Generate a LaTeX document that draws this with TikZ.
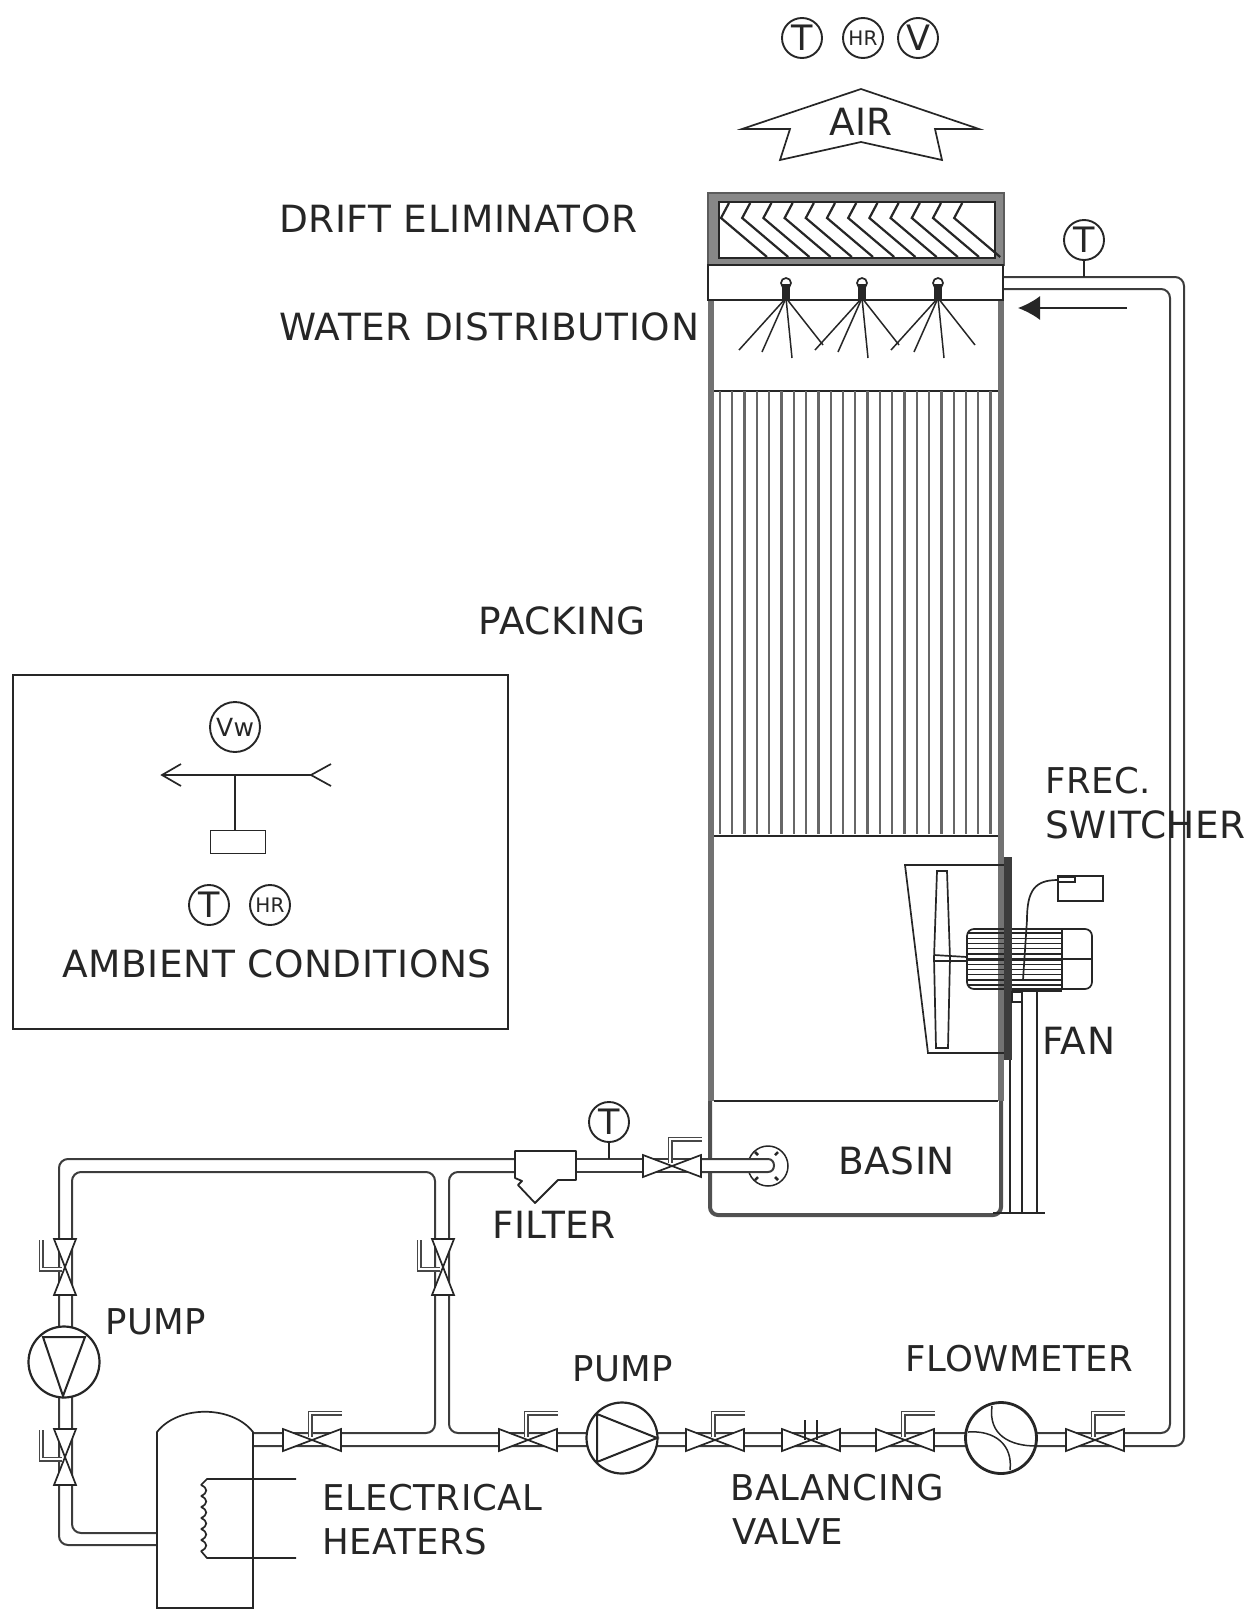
\documentclass[tikz,border=0pt]{standalone}
\usepackage{fontspec}
\setmainfont{DejaVu Sans}[LetterSpace=1.5]
\usetikzlibrary{arrows,arrows.meta}
\definecolor{ink}{HTML}{262626}
\tikzset{
	line/.style={draw=ink,line width=1.7pt},
	wall/.style={draw=ink!65,line width=6pt},
	pipe/.style={draw=ink!90,line width=2pt,rounded corners=9pt},
	handle/.style={draw=ink!85,double=white,double distance=2.4pt,line width=1.3pt},
	tag/.style={anchor=west,inner sep=0pt,text=ink,font=\fontsize{37.5}{42}\selectfont},
	tagsmall/.style={tag,font=\fontsize{35.5}{40}\selectfont},
	sensor/.style={circle,draw=ink,line width=1.9pt,fill=white,minimum size=40pt,inner sep=0pt,text=ink,font=\fontsize{35}{38}\selectfont},
	sensorsmall/.style={sensor,font=\fontsize{20}{21}\selectfont},
	pumpbody/.style={circle,draw=ink,line width=2.2pt,fill=white,minimum size=71pt,inner sep=0pt}
}
\newcommand{\valveh}[2]{
	\draw[line,fill=white] (#1-29,#2-11) -- (#1,#2) -- (#1-29,#2+11) -- cycle;
	\draw[line,fill=white] (#1+29,#2-11) -- (#1,#2) -- (#1+29,#2+11) -- cycle;
}
\newcommand{\valvehandle}[2]{
	\valveh{#1}{#2}
	\draw[handle] (#1-2,#2-3) -- (#1-2,#2-27) -- (#1+30,#2-27);
}
\newcommand{\valvev}[2]{
	\draw[line,fill=white] (#1-11,#2-28) -- (#1,#2) -- (#1+11,#2-28) -- cycle;
	\draw[line,fill=white] (#1-11,#2+28) -- (#1,#2) -- (#1+11,#2+28) -- cycle;
	\draw[handle] (#1-3,#2+2) -- (#1-24,#2+2) -- (#1-24,#2-27);
}
\begin{document}
\begin{tikzpicture}[x=1pt,y=-1pt]
	\useasboundingbox (0,0) rectangle (1257,1617);

	\node[sensor] (airT) at (802,38) {T};
	\node[sensorsmall] (airHR) at (863,38) {HR};
	\node[sensor] (airV) at (918,38) {V};
	\draw[line] (861,89) -- (979,129) -- (935,129) -- (942,160) -- (861,142) -- (780,160) -- (790,129) -- (742,129) -- cycle;
	\node[text=ink,font=\fontsize{37.5}{42}\selectfont] (airLabel) at (861,122) {AIR};

	\draw[wall] (711,265) -- (711,1101);
	\draw[wall] (1001,265) -- (1001,1101);
	\draw[line,draw=ink!80,line width=4pt,rounded corners=8pt] (710,1101) -- (710,1215) -- (1001,1215) -- (1001,1101);
	\draw[line,draw=ink!75,fill=ink!55] (708,193) rectangle (1004,265);
	\draw[line,line width=2.2pt,fill=white] (719,202) rectangle (995,258);
	\foreach \i in {0,...,11}
		\draw[line,line width=2.2pt] (721+21.2*\i+8,203) -- (721+21.2*\i,218) -- (721+21.2*\i+46,257);
	\draw[line,line width=2.2pt,fill=white] (708,265) rectangle (1003,300);
	\foreach \i in {0,1,2} {
		\draw[line,fill=white] (786+76*\i,283) circle (5);
		\fill[ink] (782+76*\i,284) rectangle (790+76*\i,299);
		\draw[line,line width=1.5pt] (786+76*\i,298) -- (739+76*\i,350);
		\draw[line,line width=1.5pt] (786+76*\i,298) -- (762+76*\i,352);
		\draw[line,line width=1.5pt] (786+76*\i,298) -- (792+76*\i,358);
		\draw[line,line width=1.5pt] (786+76*\i,298) -- (823+76*\i,345);
	}
	\draw[line] (714,391) -- (998,391);
	\foreach \i in {0,...,22}
		\draw[draw=ink!70,line width=2.3pt] (720+12.3*\i,391) -- (720+12.3*\i,834);
	\draw[line] (714,836) -- (998,836);
	\draw[line] (714,1101) -- (998,1101);

	\draw[line] (1004,865) -- (905,865) -- (928,1053) -- (1004,1053);
	\draw[line] (937,871) -- (947,871) -- (950,958) -- (948,1048) -- (936,1048) -- (934,958) -- cycle;
	\draw[line] (934,955) -- (967,957);
	\draw[line] (934,961) -- (967,961);
	\draw[line,rounded corners=7pt] (1062,929) -- (967,929) -- (967,989) -- (1062,989);
	\draw[line,rounded corners=7pt] (1062,929) -- (1092,929) -- (1092,989) -- (1062,989);
	\draw[line] (1062,929) -- (1062,989);
	\foreach \i in {0,...,10}
		\draw[draw=ink,line width=1.4pt] (967,933+5.2*\i) -- (1062,933+5.2*\i);
	\draw[line,line width=3pt] (967,959) -- (1062,959);
	\draw[line] (1062,959) -- (1092,959);
	\fill[ink!90] (1004,857) rectangle (1012,1060);
	\draw[line,line width=4pt] (1012,990) -- (1062,990);
	\draw[line,line width=1.2pt] (1012,992) rectangle (1022,1002);
	\draw[line] (1010,1060) -- (1010,1213);
	\draw[line] (1022,1002) -- (1022,1213);
	\draw[line] (1037,992) -- (1037,1213);
	\draw[line] (993,1213) -- (1045,1213);
	\draw[line] (1058,876) rectangle (1103,901);
	\draw[line] (1058,877) rectangle (1075,882);
	\draw[line] (1058,880) .. controls (1035,880) and (1027,890) .. (1027,920) -- (1023,980);

	\coordinate (pipeOutTop) at (1084,277);
	\draw[pipe] (1004,277) -- (1184,277) -- (1184,1446) -- (253,1446);
	\draw[pipe] (1004,289) -- (1170,289) -- (1170,1433) -- (449,1433) -- (449,1172) -- (515,1172);
	\draw[pipe] (253,1433) -- (435,1433) -- (435,1172) -- (72,1172) -- (72,1533) -- (157,1533);
	\draw[pipe] (515,1159) -- (59,1159) -- (59,1545) -- (157,1545);
	\draw[pipe] (576,1159) -- (702,1159);
	\draw[pipe] (576,1172) -- (702,1172);
	\node[sensor] (basinT) at (609,1122) {T};
	\coordinate (pipeBasinTop) at (609,1159);
	\draw[line] (basinT) -- (pipeBasinTop);
	\node[sensor] (returnT) at (1084,240) {T};
	\draw[line] (returnT) -- (pipeOutTop);
	\draw[draw=ink,fill=white,line width=1.8pt,line join=round] (515,1151) -- (576,1151) -- (576,1180) -- (558,1180) -- (535,1203) -- (518,1185) -- (522,1181) -- (515,1178) -- cycle;

	\valvehandle{672}{1166}
	\draw[line,line width=1.5pt,fill=white] (768,1166) circle (20);
	\draw[line,line width=2.5pt] (755,1152) -- (758,1155);
	\draw[line,line width=2.5pt] (755,1180) -- (758,1177);
	\draw[line,line width=2.5pt] (778,1180) -- (775,1177);
	\draw[line,line width=2.5pt] (778,1152) -- (775,1155);
	\fill[white] (702,1159) rectangle (768,1172);
	\draw[pipe,rounded corners=0pt] (702,1159) -- (768,1159) .. controls (776,1159) and (776,1172) .. (768,1172) -- (702,1172);

	\valvehandle{312}{1440}
	\valvehandle{528}{1440}
	\valvehandle{715}{1440}
	\valvehandle{905}{1440}
	\valvehandle{1095}{1440}
	\valveh{811}{1440}
	\draw[line,line width=1.4pt] (805,1420) -- (805,1440);
	\draw[line,line width=1.4pt] (817,1420) -- (817,1440);
	\valvev{65}{1267}
	\valvev{443}{1267}
	\valvev{65}{1457}

	\node[pumpbody] (pumpUp) at (64,1362) {};
	\draw[line,line width=2pt] (43,1337) -- (85,1337) -- (63,1396) -- cycle;
	\node[pumpbody] (pumpLine) at (622,1438) {};
	\draw[line,line width=2pt] (597,1414) -- (657,1438) -- (597,1462) -- cycle;
	\node[pumpbody,line width=2.8pt] (flowMeter) at (1001,1438) {};
	\draw[line,line width=1.5pt] (992,1406) .. controls (988,1435) and (1010,1446) .. (1036,1446);
	\draw[line,line width=1.5pt] (968,1432) .. controls (995,1430) and (1013,1445) .. (1010,1470);

	\draw[line,fill=white] (157,1608) -- (157,1432) .. controls (178,1405) and (232,1405) .. (253,1432) -- (253,1608) -- cycle;
	\draw[line] (296,1479) -- (207,1479) -- (201,1485);
	\foreach \i in {0,...,5}
		\draw[line] (201,1485+11*\i) .. controls (208,1488+11*\i) and (208,1493+11*\i) .. (201,1496+11*\i);
	\draw[line] (201,1551) -- (207,1558) -- (296,1558);

	\draw[line] (13,675) rectangle (508,1029);
	\node[sensorsmall,minimum size=50pt,font=\fontsize{25}{26}\selectfont] (ambV) at (235,727) {Vw};
	\coordinate (vaneStem) at (235,775);
	\coordinate (vaneTail) at (311,775);
	\draw[line] (162,775) -- (vaneTail);
	\draw[line] (181,764) -- (162,775) -- (181,786);
	\draw[line] (331,764) -- (vaneTail) -- (331,786);
	\node[draw=ink,line width=1.7pt,minimum width=55pt,minimum height=23pt,inner sep=0pt] (vaneBox) at (238,842) {};
	\draw[line] (vaneStem) -- (vaneBox.north -| vaneStem);
	\node[sensor] (ambT) at (209,905) {T};
	\node[sensorsmall] (ambHR) at (270,905) {HR};

	\node[tag] (driftLabel) at (279,219) {DRIFT ELIMINATOR};
	\node[tag] (waterLabel) at (279,327) {WATER DISTRIBUTION};
	\node[tag] (packLabel) at (478,621) {PACKING};
	\node[tag] (ambLabel) at (62,964) {AMBIENT CONDITIONS};
	\node[tagsmall] (frecLabel) at (1045,781) {FREC.};
	\node[tag] (switchLabel) at (1045,825) {SWITCHER};
	\node[tag] (fanLabel) at (1042,1041) {FAN};
	\node[tag] (basinLabel) at (838,1161) {BASIN};
	\node[tag] (filterLabel) at (492,1225) {FILTER};
	\node[tagsmall] (pumpUpLabel) at (105,1322) {PUMP};
	\node[tagsmall] (pumpLineLabel) at (572,1369) {PUMP};
	\node[tagsmall] (flowLabel) at (905,1359) {FLOWMETER};
	\node[tagsmall] (elecLabel) at (322,1498) {ELECTRICAL};
	\node[tagsmall] (heatLabel) at (322,1542) {HEATERS};
	\node[tagsmall] (balLabel) at (730,1488) {BALANCING};
	\node[tagsmall] (valveLabel) at (732,1532) {VALVE};

	\draw[-{Latex[length=22pt,width=24pt]},line] (1127,308) -- (1018,308);
\end{tikzpicture}
\end{document}
